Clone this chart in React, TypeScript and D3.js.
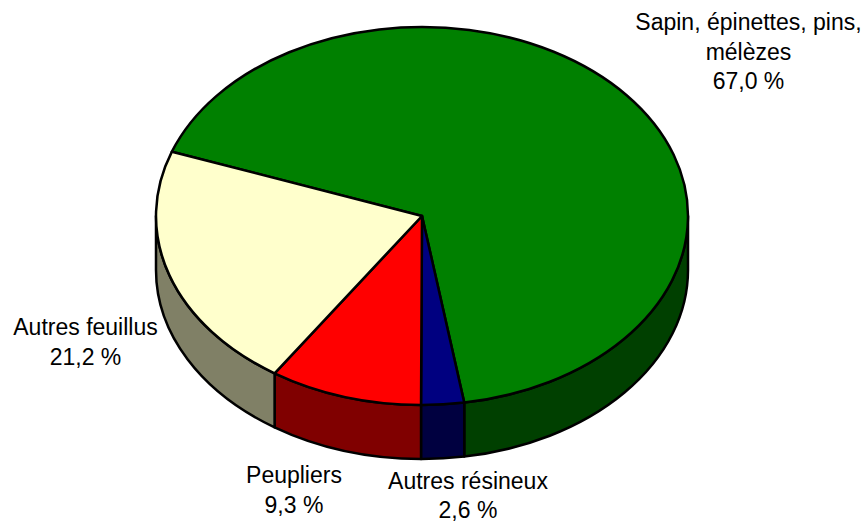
import React from "react";
import * as d3 from "d3";

const categories = ["Sapin, épinettes, pins, mélèzes", "Autres résineux", "Peupliers", "Autres feuillus"];
const shares = [67.0, 2.6, 9.3, 21.2];
const topColors = ["#008000", "#000080", "#ff0000", "#ffffcc"];
const sideColors = ["#004000", "#000040", "#800000", "#808066"];
const labelLines = [
  ["Sapin, épinettes, pins,", "mélèzes", "67,0 %"],
  ["Autres résineux", "2,6 %"],
  ["Peupliers", "9,3 %"],
  ["Autres feuillus", "21,2 %"],
];
const labelAnchors = [
  { x: 748.5, y: 30 },
  { x: 468, y: 488.5 },
  { x: 294, y: 483 },
  { x: 85.5, y: 335 },
];

const cx = 422, cy = 216, rx = 266, ry = 189, depth = 54;
const startDeg = -70.1;

const px = (t: number) => cx + rx * Math.sin(t);
const py = (t: number, d = 0) => cy - ry * Math.cos(t) + d;
const arcTo = (t0: number, t1: number, d = 0) => {
  const large = Math.abs(t1 - t0) > Math.PI ? 1 : 0;
  const sweep = t1 > t0 ? 1 : 0;
  return `A${rx},${ry} 0 ${large} ${sweep} ${px(t1)},${py(t1, d)}`;
};

export default function App() {
  const start = (startDeg * Math.PI) / 180;
  const pie = d3.pie<number>().sort(null).startAngle(start).endAngle(start + 2 * Math.PI);
  const arcs = pie(shares);
  const front0 = Math.PI / 2, front1 = (3 * Math.PI) / 2;

  return (
    <svg width={868} height={523} style={{ position: "absolute", left: 0, top: 0 }}>
      {arcs.map((a, i) => {
        const t0 = Math.max(a.startAngle, front0);
        const t1 = Math.min(a.endAngle, front1);
        if (t1 <= t0) return null;
        const d = `M${px(t0)},${py(t0)} ${arcTo(t0, t1)} L${px(t1)},${py(t1, depth)} ${arcTo(t1, t0, depth)} Z`;
        return <path key={i} d={d} fill={sideColors[i]} stroke="#000" strokeWidth={2.5} strokeLinejoin="round" />;
      })}
      {arcs.map((a, i) => (
        <path
          key={i}
          d={`M${cx},${cy} L${px(a.startAngle)},${py(a.startAngle)} ${arcTo(a.startAngle, a.endAngle)} Z`}
          fill={topColors[i]}
          stroke="#000"
          strokeWidth={2.5}
          strokeLinejoin="round"
        />
      ))}
      {labelLines.map((lines, i) => (
        <text
          key={categories[i]}
          textAnchor="middle"
          fontFamily="Liberation Sans, Arial, sans-serif"
          fontSize={23}
          fill="#000"
        >
          {lines.map((l, j) => (
            <tspan key={j} x={labelAnchors[i].x} y={labelAnchors[i].y + j * 29.5}>{l}</tspan>
          ))}
        </text>
      ))}
    </svg>
  );
}
